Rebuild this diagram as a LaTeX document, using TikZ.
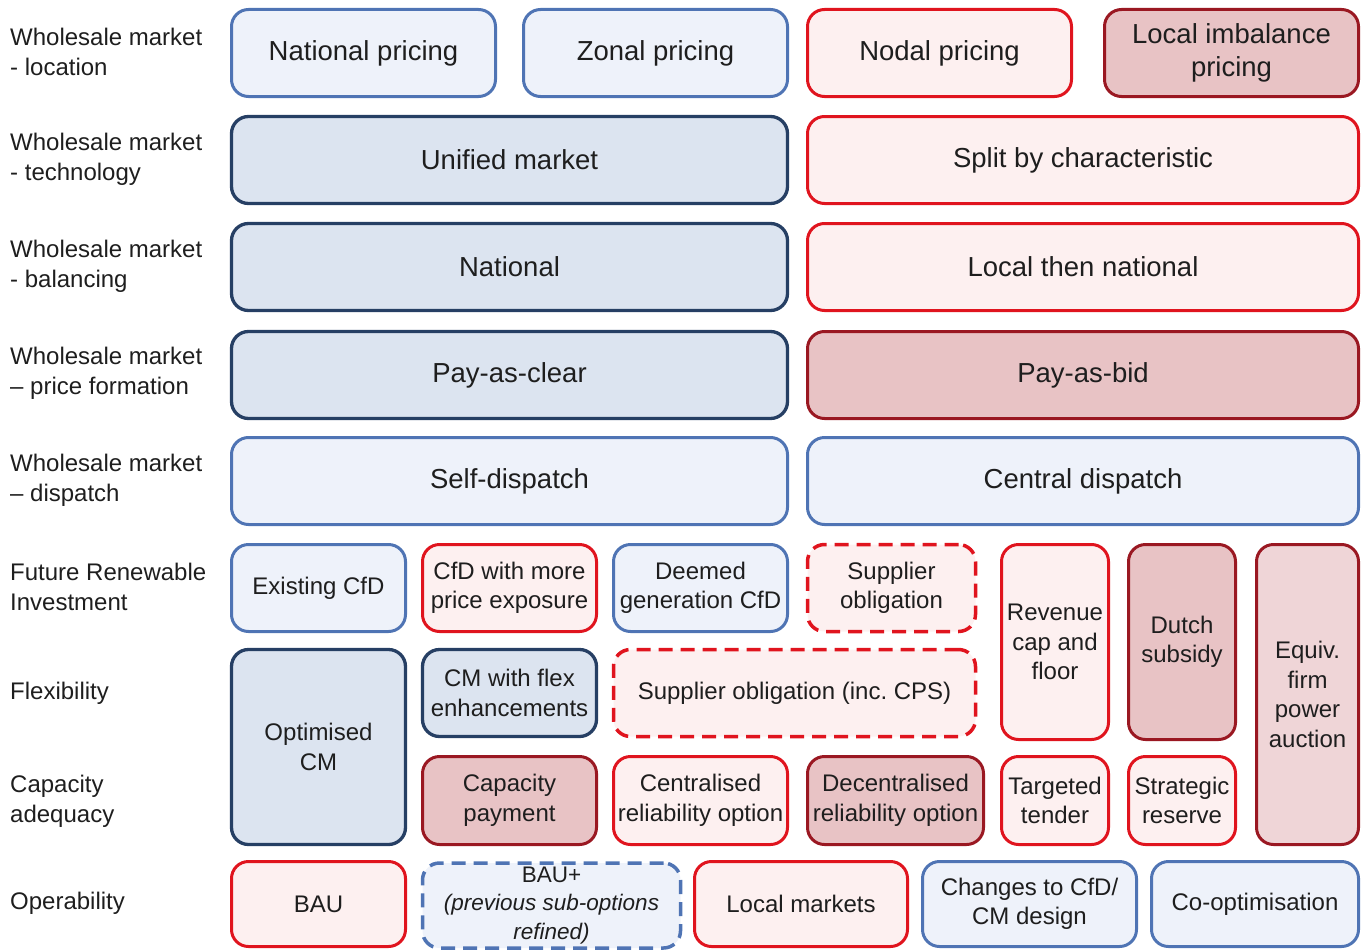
\documentclass[tikz,border=0pt]{standalone}
\usepackage{fontspec}
\setmainfont{Liberation Sans}
\usepackage{xcolor}

\definecolor{lbline}{HTML}{4F74B4}
\definecolor{lbfill}{HTML}{EEF2FA}
\definecolor{dbline}{HTML}{263F64}
\definecolor{dbfill}{HTML}{DCE4F0}
\definecolor{lrline}{HTML}{E0141E}
\definecolor{lrfill}{HTML}{FDF0F0}
\definecolor{drline}{HTML}{9A1822}
\definecolor{drfill}{HTML}{E8C3C5}
\definecolor{eqfill}{HTML}{EFD5D7}
\definecolor{txt}{HTML}{1E1E1E}

\newcommand{\boxbig}{\fontsize{27.5}{33}\selectfont}
\newcommand{\boxsmall}{\fontsize{24}{29.5}\selectfont}

\begin{document}
\begin{tikzpicture}[x=1pt,y=-1pt,
        opt/.style={rectangle,rounded corners=17pt,line width=3pt,inner sep=0pt,align=center,text=txt,font=\boxbig},
        lblue/.style={opt,draw=lbline,fill=lbfill},
        dblue/.style={opt,draw=dbline,fill=dbfill,line width=3.3pt},
        lred/.style={opt,draw=lrline,fill=lrfill},
        dred/.style={opt,draw=drline,fill=drfill},
        sub/.style={dash pattern=on 14pt off 8pt,line width=3.5pt},
        sm/.style={font=\boxsmall},
        wh/.style 2 args={minimum width=#1pt,minimum height=#2pt},
        rowlab/.style={anchor=west,align=left,inner sep=0pt,text=txt,font=\fontsize{24}{30}\selectfont}]
        \useasboundingbox (0,0) rectangle (1362,950);
        % row labels
        \node[rowlab] (lloc) at (10,52) {Wholesale market\\- location};
        \node[rowlab] (ltech) at (10,159.5) {Wholesale market\\- technology};
        \node[rowlab] (lbal) at (10,266) {Wholesale market\\- balancing};
        \node[rowlab] (lprice) at (10,373) {Wholesale market\\– price formation};
        \node[rowlab] (ldisp) at (10,480) {Wholesale market\\– dispatch};
        \node[rowlab] (lren) at (10,587) {Future Renewable\\Investment};
        \node[rowlab] (lflex) at (10,693) {Flexibility};
        \node[rowlab] (lcap) at (10,801) {Capacity\\adequacy};
        \node[rowlab] (lop) at (10,903) {Operability};
        % wholesale market
        \node[lblue,wh={264}{87}] (natp) at (363.5,53) {National pricing};
        \node[lblue,wh={264}{87}] (zonp) at (655.5,53) {Zonal pricing};
        \node[lred,wh={264}{87}] (nodp) at (939.5,53) {Nodal pricing};
        \node[dred,wh={254}{87}] (limb) at (1231.5,53) {Local imbalance\\pricing};
        \node[dblue,wh={556}{87}] (unif) at (509.5,160) {Unified market};
        \node[lred,wh={551}{87}] (split) at (1083,160) {Split by characteristic};
        \node[dblue,wh={556}{87}] (natb) at (509.5,267) {National};
        \node[lred,wh={551}{87}] (locn) at (1083,267) {Local then national};
        \node[dblue,wh={556}{87}] (pac) at (509.5,375) {Pay-as-clear};
        \node[dred,wh={551}{87}] (pab) at (1083,375) {Pay-as-bid};
        \node[lblue,wh={556}{87}] (selfd) at (509.5,481) {Self-dispatch};
        \node[lblue,wh={551}{87}] (centd) at (1083,481) {Central dispatch};
        % renewables, flexibility, capacity
        \node[lblue,sm,wh={174}{87}] (excfd) at (318.5,588) {Existing CfD};
        \node[lred,sm,wh={174}{87}] (cfdpe) at (509.5,588) {CfD with more\\price exposure};
        \node[lblue,sm,wh={174}{87}] (deem) at (700.5,588) {Deemed\\generation CfD};
        \node[lred,sub,sm,wh={168}{87}] (supo) at (891.5,588) {Supplier\\obligation};
        \node[lred,sm,wh={107}{195}] (revc) at (1055,642) {Revenue\\cap and\\floor};
        \node[dred,sm,wh={107}{195}] (dutch) at (1182,642) {Dutch\\subsidy};
        \node[dred,fill=eqfill,sm,wh={102}{300}] (equiv) at (1307.5,694.5) {Equiv.\\firm\\power\\auction};
        \node[dblue,sm,wh={174}{195}] (optcm) at (318.5,747) {Optimised\\CM};
        \node[dblue,sm,wh={174}{87}] (cmflex) at (509.5,693) {CM with flex\\enhancements};
        \node[lred,sub,sm,wh={362}{87}] (supcps) at (794.5,693) {Supplier obligation (inc.\ CPS)};
        \node[dred,sm,wh={174}{88}] (cappay) at (509.5,800.5) {Capacity\\payment};
        \node[lred,sm,wh={174}{88}] (cenro) at (700.5,800.5) {Centralised\\reliability option};
        \node[dred,sm,wh={176}{88}] (decro) at (895.5,800.5) {Decentralised\\reliability option};
        \node[lred,sm,wh={107}{88}] (targ) at (1055,800.5) {Targeted\\tender};
        \node[lred,sm,wh={107}{88}] (strat) at (1182,800.5) {Strategic\\reserve};
        % operability
        \node[lred,sm,wh={174}{85}] (bau) at (318.5,904) {BAU};
        \node[lblue,sub,font=\fontsize{22.5}{28.5}\selectfont,wh={258}{85}] (bauplus) at (551.5,905.5) {BAU+\\\textit{(previous sub-options}\\\textit{refined)}};
        \node[lred,sm,wh={213}{85}] (locm) at (801,904) {Local markets};
        \node[lblue,sm,wh={214}{85}] (chg) at (1029.5,904) {Changes to CfD/\\CM design};
        \node[lblue,sm,wh={207}{85}] (coopt) at (1255,904) {Co-optimisation};
\end{tikzpicture}
\end{document}
